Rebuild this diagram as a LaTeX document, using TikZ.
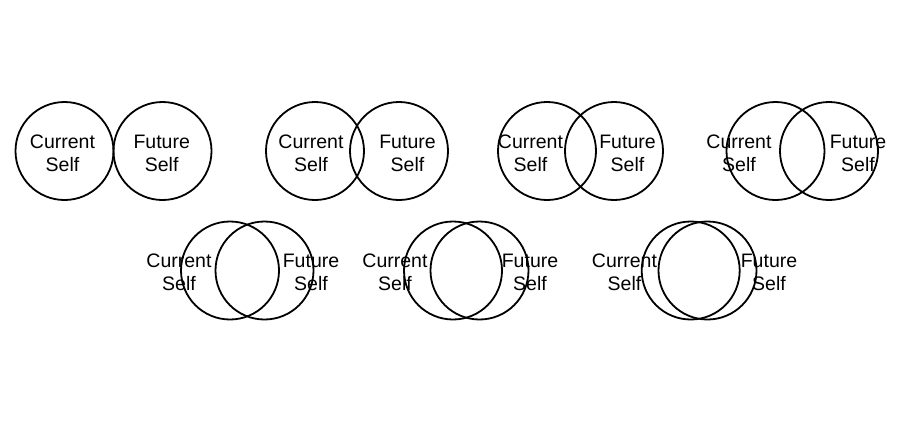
\documentclass[tikz,border=0pt]{standalone}
\usepackage{fontspec}
\setmainfont{Liberation Sans}
\begin{document}
\begin{tikzpicture}[x=1bp,y=-1bp,
  self/.style={circle,draw,line width=1.8bp,minimum size=98bp,inner sep=0pt},
  lbl/.style={align=center,inner sep=0pt,font=\fontsize{19.5bp}{23bp}\selectfont}]
\useasboundingbox (0,0) rectangle (900,420);
% top row
\node[self] (c1) at (64.5,151) {};
\node[self] (f1) at (162.5,151) {};
\node[self] (c2) at (315,151) {};
\node[self] (f2) at (399,151) {};
\node[self] (c3) at (547,151) {};
\node[self] (f3) at (614,151) {};
\node[self] (c4) at (775.5,151) {};
\node[self] (f4) at (829,151) {};
% bottom row
\node[self] (c5) at (230,270.5) {};
\node[self] (f5) at (264.5,270.5) {};
\node[self] (c6) at (453,270.5) {};
\node[self] (f6) at (479.5,270.5) {};
\node[self] (c7) at (690.7,270.5) {};
\node[self] (f7) at (707.5,270.5) {};
% labels
\node[lbl] (tc1) at (62.5,153) {Current\\Self};
\node[lbl] (tf1) at (161.7,153) {Future\\Self};
\node[lbl] (tc2) at (311,153) {Current\\Self};
\node[lbl] (tf2) at (407.5,153) {Future\\Self};
\node[lbl] (tc3) at (530.5,153) {Current\\Self};
\node[lbl] (tf3) at (627.5,153) {Future\\Self};
\node[lbl] (tc4) at (739,153) {Current\\Self};
\node[lbl] (tf4) at (858,153) {Future\\Self};
\node[lbl] (tc5) at (179,272) {Current\\Self};
\node[lbl] (tf5) at (311,272) {Future\\Self};
\node[lbl] (tc6) at (395,272) {Current\\Self};
\node[lbl] (tf6) at (530,272) {Future\\Self};
\node[lbl] (tc7) at (624.5,272) {Current\\Self};
\node[lbl] (tf7) at (769,272) {Future\\Self};
\end{tikzpicture}
\end{document}
